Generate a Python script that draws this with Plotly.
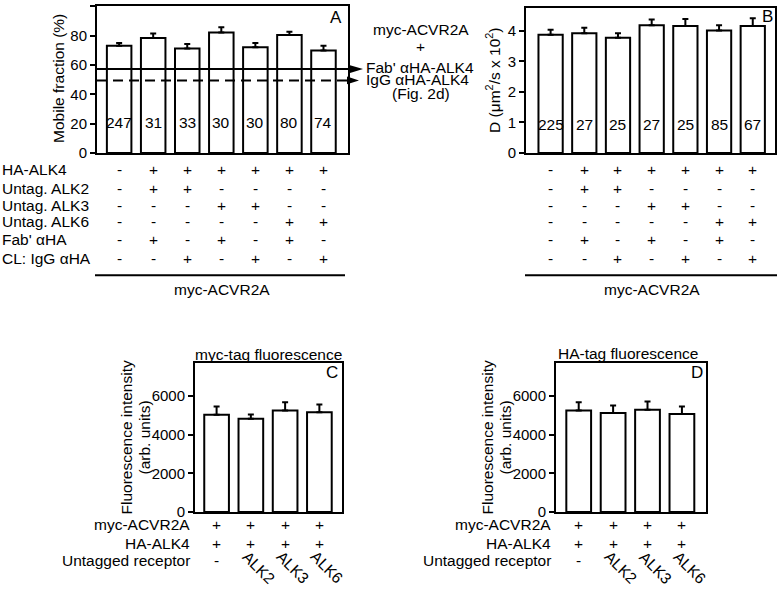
import plotly.graph_objects as go

W, H = 777, 594
FONT = "Liberation Sans, Arial, sans-serif"
FS = 15.5

# ---------------- data ----------------
conditions_AB = [0, 1, 2, 3, 4, 5, 6]
mobile_fraction = [73.2, 78.5, 71.2, 82.2, 72.1, 80.4, 69.9]
mobile_err = [1.8, 3.0, 3.2, 3.5, 3.0, 2.3, 3.2]
n_A = [247, 31, 33, 30, 30, 80, 74]
ref_fab = 57.2
ref_igg = 49.5

D_vals = [3.87, 3.92, 3.77, 4.18, 4.16, 4.01, 4.16]
D_err = [0.16, 0.18, 0.15, 0.19, 0.23, 0.17, 0.25]
n_B = [225, 27, 25, 27, 25, 85, 67]

row_labels_AB = ["HA-ALK4", "Untag. ALK2", "Untag. ALK3", "Untag. ALK6", "Fab' \u03b1HA", "CL: IgG \u03b1HA"]
row_signs_AB = [
    ["-", "+", "+", "+", "+", "+", "+"],
    ["-", "+", "+", "-", "-", "-", "-"],
    ["-", "-", "-", "+", "+", "-", "-"],
    ["-", "-", "-", "-", "-", "+", "+"],
    ["-", "+", "-", "+", "-", "+", "-"],
    ["-", "-", "+", "-", "+", "-", "+"],
]

conditions_CD = [0, 1, 2, 3]
myc_fluor = [5030, 4815, 5250, 5150]
myc_err = [420, 220, 420, 410]
ha_fluor = [5250, 5120, 5290, 5070]
ha_err = [420, 390, 420, 390]
row_labels_CD = ["myc-ACVR2A", "HA-ALK4", "Untagged receptor"]
row_signs_CD = [["+", "+", "+", "+"], ["+", "+", "+", "+"]]
untagged_CD = ["-", "ALK2", "ALK3", "ALK6"]

# ---------------- helpers ----------------
def px(x):
    return x / W

def py(y):
    return 1 - y / H

fig = go.Figure()

def bar(xs, ys, err, xa, ya):
    fig.add_trace(go.Bar(
        x=xs, y=ys, xaxis=xa, yaxis=ya, width=0.72,
        marker=dict(color="white", line=dict(color="black", width=2)),
        error_y=dict(type="data", array=err, arrayminus=[0] * len(err), symmetric=False,
                     color="black", thickness=2, width=3),
        showlegend=False, hoverinfo="skip"))

bar(conditions_AB, mobile_fraction, mobile_err, "x", "y")
bar(conditions_AB, D_vals, D_err, "x2", "y2")
bar(conditions_CD, myc_fluor, myc_err, "x3", "y3")
bar(conditions_CD, ha_fluor, ha_err, "x4", "y4")

def xax(dom, rng):
    return dict(domain=[px(dom[0]), px(dom[1])], range=rng, showline=True, mirror=True,
                linecolor="black", linewidth=2, showticklabels=False, ticks="",
                showgrid=False, zeroline=False, fixedrange=True)

def yax(dom, rng, tv, anchor):
    return dict(domain=[py(dom[1]), py(dom[0])], range=rng, showline=True, mirror=True,
                linecolor="black", linewidth=2, ticks="outside", ticklen=5, tickwidth=2,
                tickcolor="black", tickvals=tv, tickfont=dict(size=15, color="black", family=FONT),
                showgrid=False, zeroline=False, anchor=anchor, fixedrange=True)

layout = dict(
    width=W, height=H, margin=dict(l=0, r=0, t=0, b=0),
    paper_bgcolor="white", plot_bgcolor="white",
    font=dict(family=FONT, size=FS, color="black"),
    xaxis=dict(xax((97, 348), [-0.65, 6.72]), anchor="y"),
    yaxis=yax((6.5, 155), [0, 100], [0, 20, 40, 60, 80, 100], "x"),
    xaxis2=dict(xax((526, 775), [-0.73, 6.66]), anchor="y2"),
    yaxis2=yax((8, 155), [0, 4.75], [0, 1, 2, 3, 4], "x2"),
    xaxis3=dict(xax((195, 342), [-0.63, 3.66]), anchor="y3"),
    yaxis3=yax((368, 519), [0, 7700], [0, 2000, 4000, 6000], "x3"),
    xaxis4=dict(xax((556, 706), [-0.66, 3.7]), anchor="y4"),
    yaxis4=yax((368, 519), [0, 7700], [0, 2000, 4000, 6000], "x4"),
    bargap=0.2,
)
fig.update_layout(**layout)

ann = []
shapes = []

def text(x, y, t, xref="paper", yref="paper", xanchor="center", yanchor="middle", size=FS, angle=0, xshift=0):
    ann.append(dict(x=x, y=y, xref=xref, yref=yref, text=t, showarrow=False,
                    xanchor=xanchor, yanchor=yanchor, textangle=angle, xshift=xshift,
                    font=dict(size=size, family=FONT, color="black")))

# n labels in bars
for i, n in enumerate(n_A):
    text(conditions_AB[i], 21, str(n), xref="x", yref="y")
for i, n in enumerate(n_B):
    text(conditions_AB[i], 0.92, str(n), xref="x2", yref="y2")

# panel letters
text(px(336), py(18), "A", size=17)
text(px(767), py(17), "B", size=17)
text(px(332), py(378), "C", size=17)
text(px(697), py(378), "D", size=17)

# y titles
text(px(59), py(80), "Mobile fraction (%)", angle=-90)
text(px(493), py(82), "D (\u03bcm<sup>2</sup>/s x 10<sup>2</sup>)", angle=-90)
for xc in (127, 488):
    text(px(xc), py(443.5), "Fluorescence intensity", angle=-90)
    text(px(xc + 18), py(443.5), "(arb. units)", angle=-90)

# C/D titles
text(px(268), py(359), "myc-tag fluorescence")
text(px(628), py(358), "HA-tag fluorescence")

# reference lines in A with arrowheads
shapes.append(dict(type="line", xref="paper", yref="y", x0=px(97), x1=px(352), y0=ref_fab, y1=ref_fab,
                   line=dict(color="black", width=2)))
shapes.append(dict(type="line", xref="paper", yref="y", x0=px(97), x1=px(348), y0=ref_igg, y1=ref_igg,
                   line=dict(color="black", width=2, dash="10px,6px")))
hh = 4 * 100 / 148.5
for yv, x0, x1 in ((ref_fab, 350, 363), (ref_igg, 347, 359)):
    shapes.append(dict(type="path", xref="paper", yref="y",
                       path=f"M {px(x0)},{yv + hh} L {px(x1)},{yv} L {px(x0)},{yv - hh} Z",
                       fillcolor="black", line=dict(color="black", width=0)))

text(px(421), py(30), "myc-ACVR2A")
text(px(421), py(47), "+")
text(px(364), py(68), "Fab' \u03b1HA-ALK4", xanchor="left")
text(px(364), py(81), "IgG \u03b1HA-ALK4", xanchor="left")
text(px(421), py(95), "(Fig. 2d)")

# sign tables A/B
row_y_AB = [172, 191, 208, 225, 243, 262]
for r, lab in enumerate(row_labels_AB):
    text(0, py(row_y_AB[r]), lab, xanchor="left")
    for i, s in enumerate(row_signs_AB[r]):
        text(conditions_AB[i], py(row_y_AB[r]), s, xref="x")
        text(conditions_AB[i], py(row_y_AB[r]), s, xref="x2")

shapes.append(dict(type="line", xref="paper", yref="paper", x0=px(95), x1=px(345), y0=py(279), y1=py(279),
                   line=dict(color="black", width=2)))
shapes.append(dict(type="line", xref="paper", yref="paper", x0=px(525), x1=px(777), y0=py(279), y1=py(279),
                   line=dict(color="black", width=2)))
text(px(222), py(293), "myc-ACVR2A")
text(px(652), py(293), "myc-ACVR2A")

# sign tables C/D
row_y_CD = [532, 551, 568]
for xr, xa in ((192, "x3"), (553, "x4")):
    for r, lab in enumerate(row_labels_CD):
        text(px(xr), py(row_y_CD[r]), lab, xanchor="right")
    for r in range(2):
        for i, s in enumerate(row_signs_CD[r]):
            text(conditions_CD[i], py(row_y_CD[r]), s, xref=xa)
    for i, s in enumerate(untagged_CD):
        if s == "-":
            text(conditions_CD[i], py(row_y_CD[2]), s, xref=xa)
        else:
            text(conditions_CD[i], py(575), s, xref=xa, angle=45, xshift=8)

fig.update_layout(annotations=ann, shapes=shapes)
fig.write_html("out.html", config={"displayModeBar": False},
               post_script="document.body.style.margin='0';document.body.style.overflow='hidden';")
